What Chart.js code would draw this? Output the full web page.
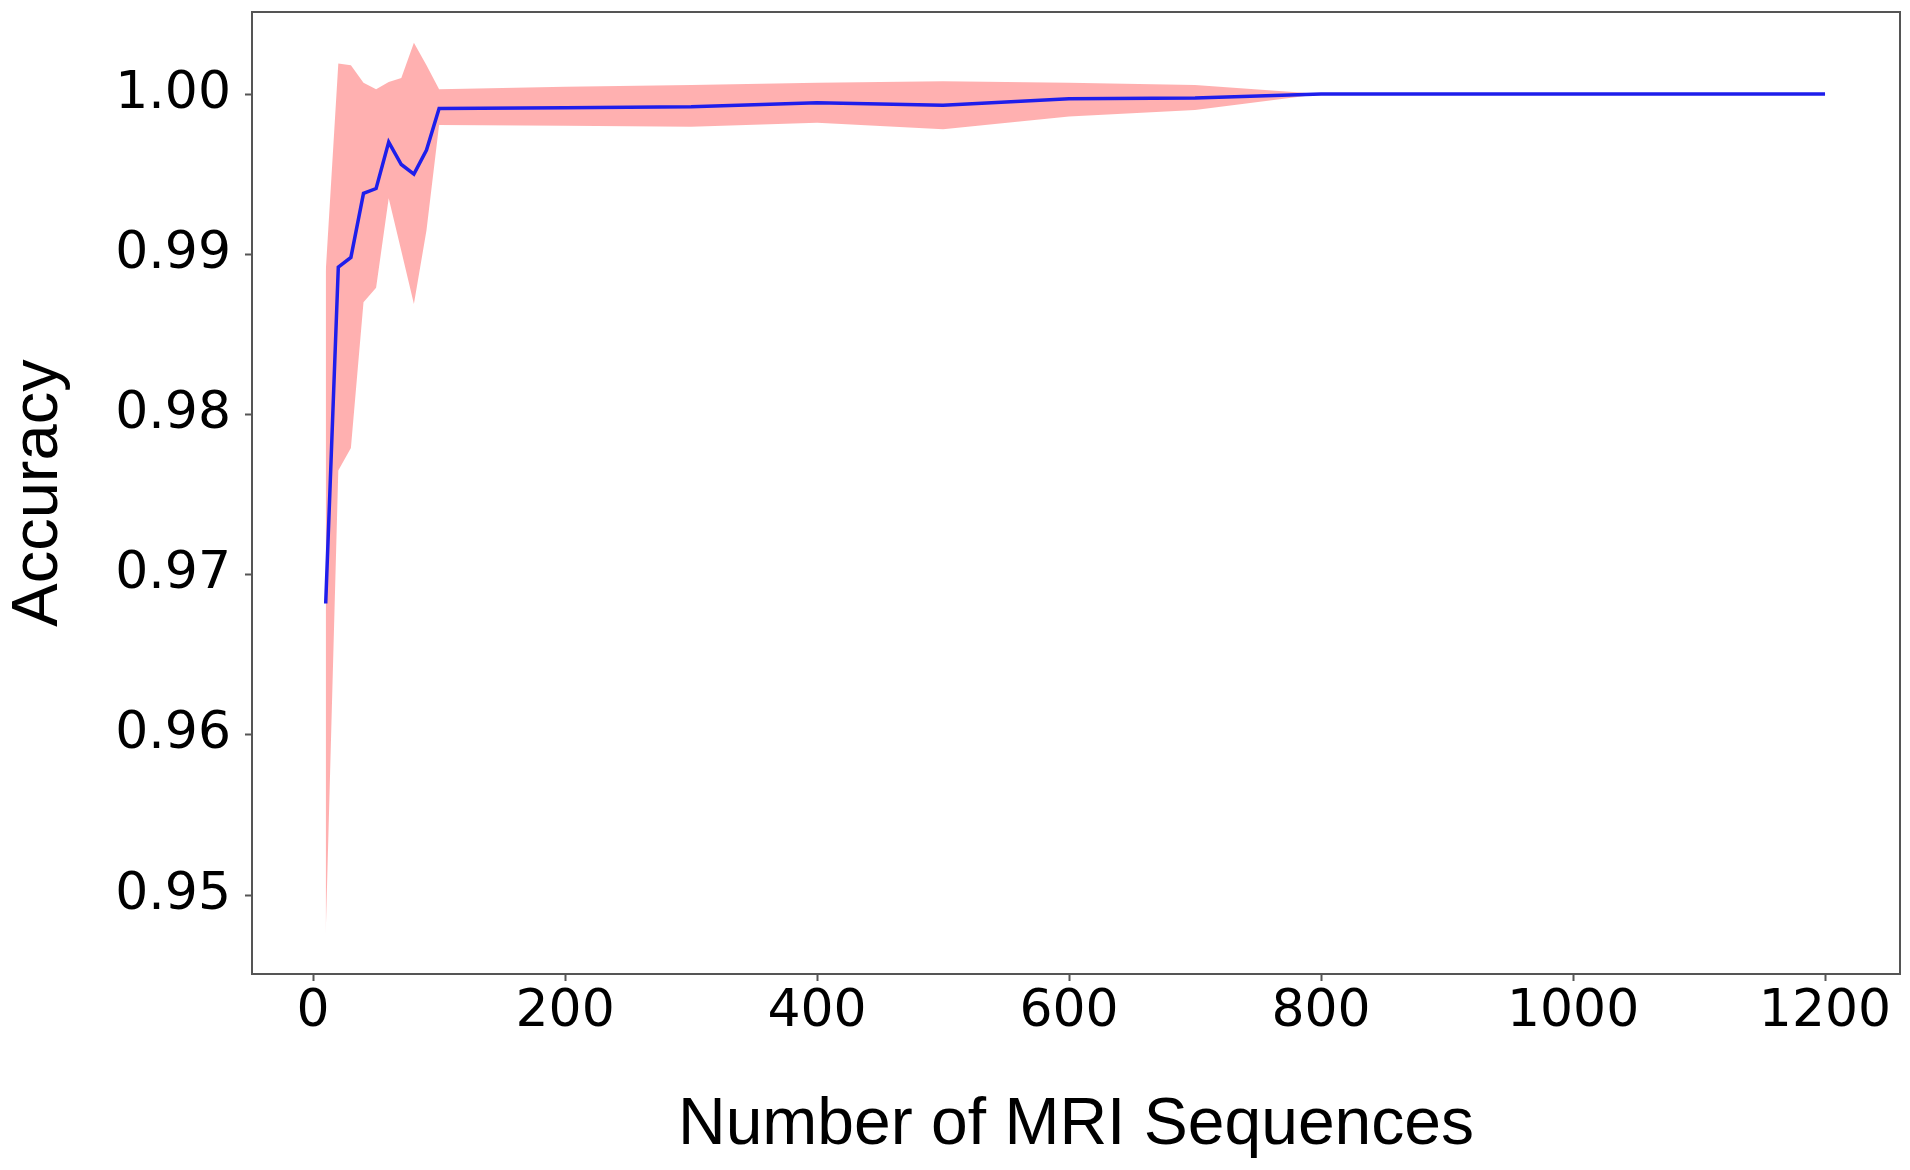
<!DOCTYPE html>
<html>
<head>
<meta charset="utf-8">
<script src="https://cdn.jsdelivr.net/npm/chart.js@4.4.1/dist/chart.umd.min.js"></script>
<style>
  html, body { margin: 0; padding: 0; background: #ffffff; }
  #wrap { width: 1910px; height: 1170px; }
</style>
</head>
<body>
<div id="wrap"><canvas id="c" width="1910" height="1170"></canvas></div>
<script>
// ---- data ----
const sequences = [10, 20, 30, 40, 50, 60, 70, 80, 90, 100, 200, 300, 400, 500, 600, 700, 800, 900, 1000, 1100, 1200];
const accuracyMean = [0.9682, 0.9892, 0.9898, 0.9938, 0.9941, 0.9970, 0.9956, 0.9950, 0.9965, 0.9991, 0.99915, 0.9992, 0.99945, 0.9993, 0.9997, 0.99975, 1.0, 1.0, 1.0, 1.0, 1.0];
const accuracyUpper = [0.9889, 1.0019, 1.0018, 1.0007, 1.0003, 1.00075, 1.0010, 1.0032, 1.0018, 1.0003, 1.00046, 1.00056, 1.0007, 1.0008, 1.0007, 1.00056, 1.0, 1.0, 1.0, 1.0, 1.0];
const accuracyLower = [0.9475, 0.9765, 0.9779, 0.9870, 0.9879, 0.9935, 0.9902, 0.9869, 0.9915, 0.99806, 0.99802, 0.99796, 0.9982, 0.9978, 0.9986, 0.9990, 1.0, 1.0, 1.0, 1.0, 1.0];
const xTickValues = [0, 200, 400, 600, 800, 1000, 1200];
const yTickValues = [0.95, 0.96, 0.97, 0.98, 0.99, 1.00];
const xTitle = 'Number of MRI Sequences';
const yTitle = 'Accuracy';

const toPoints = (ys) => sequences.map((x, i) => ({ x: x, y: ys[i] }));

const spineColor = '#555555';

const framePlugin = {
  id: 'frame',
  afterDraw(chart) {
    const { ctx, chartArea: a } = chart;
    ctx.save();
    ctx.strokeStyle = spineColor;
    ctx.lineWidth = 2;
    ctx.strokeRect(a.left, a.top, a.right - a.left, a.bottom - a.top);
    ctx.restore();
  }
};

new Chart(document.getElementById('c'), {
  type: 'line',
  data: {
    datasets: [
      {
        label: 'mean',
        data: toPoints(accuracyMean),
        borderColor: 'rgb(30,30,235)',
        borderWidth: 3.5,
        pointRadius: 0,
        fill: false,
        tension: 0
      },
      {
        label: 'upper',
        data: toPoints(accuracyUpper),
        borderWidth: 0,
        borderColor: 'rgba(0,0,0,0)',
        backgroundColor: 'rgba(255,0,0,0.31)',
        pointRadius: 0,
        fill: '+1',
        tension: 0
      },
      {
        label: 'lower',
        data: toPoints(accuracyLower),
        borderWidth: 0,
        borderColor: 'rgba(0,0,0,0)',
        pointRadius: 0,
        fill: false,
        tension: 0
      }
    ]
  },
  plugins: [framePlugin],
  options: {
    responsive: false,
    devicePixelRatio: 1,
    animation: false,
    events: [],
    layout: { padding: { left: 0, right: 10, top: 12, bottom: 0 } },
    plugins: {
      legend: { display: false },
      tooltip: { enabled: false }
    },
    scales: {
      x: {
        type: 'linear',
        min: -48.5,
        max: 1259.5,
        afterBuildTicks: (s) => { s.ticks = xTickValues.map(v => ({ value: v })); },
        afterFit: (s) => { s.height = 196; s.paddingLeft = 0; s.paddingRight = 0; },
        ticks: {
          autoSkip: false,
          maxRotation: 0,
          padding: 0,
          color: '#000000',
          font: { family: 'DejaVu Sans', size: 52 },
          callback: (v) => String(v)
        },
        grid: {
          drawOnChartArea: false,
          drawTicks: true,
          tickLength: 7,
          tickColor: spineColor,
          tickWidth: 2
        },
        border: { display: true, color: spineColor, width: 2 },
        title: {
          display: true,
          text: xTitle,
          color: '#000000',
          font: { family: 'Liberation Sans', size: 66 },
          padding: { top: 0, bottom: 5 }
        }
      },
      y: {
        type: 'linear',
        min: 0.94507,
        max: 1.00512,
        afterBuildTicks: (s) => { s.ticks = yTickValues.map(v => ({ value: v })); },
        afterFit: (s) => { s.width = 252; s.paddingTop = 0; s.paddingBottom = 0; },
        ticks: {
          padding: 14,
          color: '#000000',
          font: { family: 'DejaVu Sans', size: 52 },
          callback: (v) => Number(v).toFixed(2)
        },
        grid: {
          drawOnChartArea: false,
          drawTicks: true,
          tickLength: 7,
          tickColor: spineColor,
          tickWidth: 2
        },
        border: { display: true, color: spineColor, width: 2 },
        title: {
          display: true,
          text: yTitle,
          color: '#000000',
          font: { family: 'Liberation Sans', size: 65 },
          padding: { top: 0, bottom: 0 }
        }
      }
    }
  }
});
</script>
</body>
</html>
